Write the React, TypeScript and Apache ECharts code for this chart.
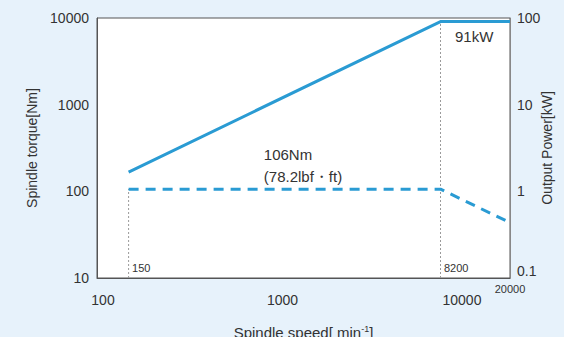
import React, { useEffect, useRef } from "react";
import * as echarts from "echarts";

// Spindle speed break points [min-1]
const speedPoints = [150, 8200, 20000];
// Output power [kW] at those speeds
const powerKW = [1.67, 91, 91];
// Spindle torque [Nm] at those speeds
const torqueNm = [106, 106, 43.5];
// Tick labels
const xTicks = [100, 1000, 10000];
const xMaxTick = [20000];
const leftTicks = [10, 100, 1000, 10000];
const rightTicks = [0.1, 1, 10, 100];

const BLUE = "#2a9bd3";
const TEXT = "#333333";
const FONT = "Liberation Sans, Arial, sans-serif";

const hiddenDot = { symbol: "circle", symbolSize: 1, itemStyle: { color: "rgba(0,0,0,0)" } };

export default function App() {
  const ref = useRef<HTMLDivElement>(null);
  useEffect(() => {
    if (!ref.current) return;
    const chart = echarts.init(ref.current, undefined, { renderer: "svg" });
    const powerData = speedPoints.map((s, i) => [s, powerKW[i]]);
    const torqueData = speedPoints.map((s, i) => [s, torqueNm[i]]);
    const basePowerTorque = (powerKW[0] * 9549) / speedPoints[0];
    const smallLabel = (text: string) => ({
      show: true,
      position: "right",
      offset: [-2, -10],
      formatter: text,
      fontSize: 11,
      color: TEXT,
      fontFamily: FONT,
    });
    chart.setOption({
      animation: false,
      textStyle: { fontFamily: FONT, color: TEXT },
      grid: {
        left: 97,
        right: 54,
        top: 18,
        bottom: 59,
        containLabel: false,
        outerBoundsMode: "none",
        show: true,
        backgroundColor: "#ffffff",
        borderColor: "#555555",
        borderWidth: 1,
      },
      xAxis: [
        {
          type: "log",
          logBase: 10,
          min: 100,
          max: 20000,
          name: "Spindle speed[ min{sup|-1}]",
          nameLocation: "middle",
          nameGap: 46,
          nameTextStyle: {
            fontSize: 15,
            color: TEXT,
            fontFamily: FONT,
            rich: { sup: { fontSize: 9, verticalAlign: "top", padding: [0, 0, 8, 0], color: TEXT, fontFamily: FONT } },
          },
          axisLine: { show: true, lineStyle: { color: "#555555" } },
          axisTick: { show: false },
          splitLine: { show: false },
          axisLabel: {
            customValues: xTicks,
            fontSize: 14,
            color: TEXT,
            margin: 15,
            padding: [0, 0, 0, 12],
            formatter: (v: number) => String(v),
          },
        },
        {
          type: "log",
          logBase: 10,
          min: 100,
          max: 20000,
          position: "bottom",
          axisLine: { show: false },
          axisTick: { show: false },
          splitLine: { show: false },
          axisLabel: {
            customValues: xMaxTick,
            fontSize: 11,
            color: TEXT,
            margin: 5,
            formatter: (v: number) => String(v),
          },
        },
      ],
      yAxis: [
        {
          type: "log",
          logBase: 10,
          min: 10,
          max: 10000,
          name: "Spindle torque[Nm]",
          nameLocation: "middle",
          nameGap: 58,
          nameTextStyle: { fontSize: 14, color: TEXT, fontFamily: FONT },
          axisLine: { show: true, lineStyle: { color: "#555555" } },
          axisTick: { show: false },
          splitLine: { show: false },
          axisLabel: {
            customValues: leftTicks,
            fontSize: 14,
            color: TEXT,
            margin: 8,
            formatter: (v: number) => String(v),
          },
        },
        {
          type: "log",
          logBase: 10,
          min: 0.1,
          max: 100,
          position: "right",
          name: "Output Power[kW]",
          nameLocation: "middle",
          nameGap: 30,
          nameMoveOverlap: false,
          nameRotate: 90,
          nameTextStyle: { fontSize: 14, color: TEXT, fontFamily: FONT },
          axisLine: { show: true, lineStyle: { color: "#888888" } },
          axisTick: { show: false },
          splitLine: { show: false },
          axisLabel: {
            customValues: rightTicks,
            fontSize: 14,
            color: TEXT,
            margin: 7,
            formatter: (v: number) => (v < 1 ? `{low|${v}}` : String(v)),
            rich: { low: { fontSize: 14, color: TEXT, fontFamily: FONT, padding: [0, 0, 14, 0] } },
          },
        },
      ],
      series: [
        {
          name: "guide150",
          type: "line",
          yAxisIndex: 0,
          ...hiddenDot,
          silent: true,
          lineStyle: { color: "#9a9a9a", width: 1, type: [2, 2] },
          data: [
            { value: [speedPoints[0], 10], label: smallLabel(String(speedPoints[0])) },
            { value: [speedPoints[0], basePowerTorque], label: { show: false } },
          ],
          z: 1,
        },
        {
          name: "guide8200",
          type: "line",
          yAxisIndex: 0,
          ...hiddenDot,
          silent: true,
          lineStyle: { color: "#9a9a9a", width: 1, type: [2, 2] },
          data: [
            { value: [speedPoints[1], 10], label: smallLabel(String(speedPoints[1])) },
            { value: [speedPoints[1], 10000], label: { show: false } },
          ],
          z: 1,
        },
        {
          name: "Output power",
          type: "line",
          yAxisIndex: 1,
          ...hiddenDot,
          lineStyle: { color: BLUE, width: 3 },
          data: powerData.map((d, i) =>
            i === 1
              ? {
                  value: d,
                  label: {
                    show: true,
                    position: "right",
                    offset: [9, 15],
                    formatter: `${powerKW[1]}kW`,
                    fontSize: 15,
                    color: TEXT,
                    fontFamily: FONT,
                  },
                }
              : { value: d, label: { show: false } }
          ),
          z: 3,
        },
        {
          name: "Spindle torque",
          type: "line",
          yAxisIndex: 0,
          ...hiddenDot,
          lineStyle: { color: BLUE, width: 3, type: [10, 7] },
          data: torqueData.map((d) => ({ value: d, label: { show: false } })),
          markPoint: {
            symbol: "circle",
            symbolSize: 1,
            itemStyle: { color: "rgba(0,0,0,0)" },
            data: [
              {
                coord: [850, torqueNm[0]],
                label: {
                  show: true,
                  position: "top",
                  distance: 1,
                  align: "left",
                  formatter: `${torqueNm[0]}Nm\n(78.2lbf・ft)`,
                  fontSize: 15,
                  lineHeight: 22,
                  color: TEXT,
                  fontFamily: FONT,
                },
              },
            ],
          },
          z: 3,
        },
      ],
    });
    return () => chart.dispose();
  }, []);
  return (
    <div
      ref={ref}
      style={{ position: "fixed", left: 0, top: 0, width: 564, height: 337, background: "#e7f2fb" }}
    />
  );
}
